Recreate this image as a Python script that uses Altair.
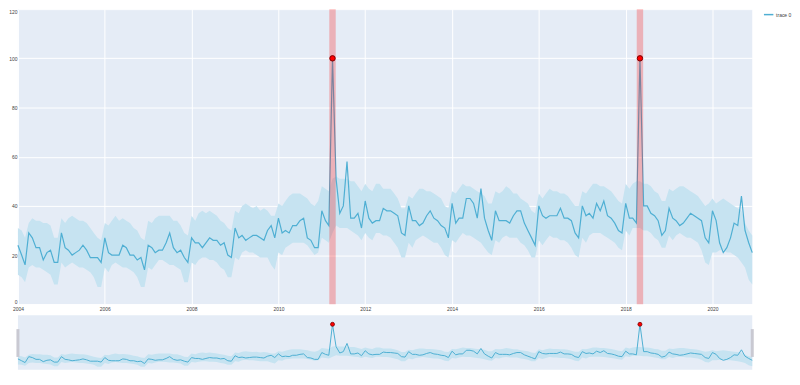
import altair as alt
import pandas as pd

# ---- data (monthly, Jan 2004 .. Dec 2020) ----
values = [
    24, 20, 16, 29, 27, 23, 23, 18, 21, 22, 17, 17,
    29, 23, 22, 20, 21, 22, 24, 22, 19, 19, 19, 17,
    27, 21, 20, 20, 20, 24, 23, 20, 20, 18, 19, 14,
    24, 23, 21, 22, 22, 25, 29, 23, 21, 22, 19, 17,
    27, 25, 25, 23, 25, 27, 26, 26, 24, 25, 20, 19,
    31, 27, 28, 26, 27, 28, 28, 27, 26, 30, 32, 27,
    35, 29, 30, 29, 32, 32, 34, 35, 27, 26, 23, 23,
    38, 34, 32, 100, 51, 37, 40, 58, 35, 35, 37, 31,
    42, 35, 33, 34, 34, 39, 38, 38, 37, 36, 29, 28,
    40, 34, 34, 32, 33, 36, 38, 35, 34, 32, 31, 27,
    41, 33, 35, 35, 43, 43, 41, 35, 47, 35, 30, 26,
    38, 34, 34, 34, 33, 36, 38, 38, 33, 30, 27, 24,
    40, 36, 35, 36, 36, 36, 39, 35, 35, 34, 29, 27,
    40, 36, 37, 35, 41, 38, 42, 36, 35, 33, 30, 29,
    41, 35, 35, 33, 100, 40, 40, 37, 36, 34, 28, 30,
    39, 35, 34, 32, 33, 35, 37, 36, 35, 34, 27, 25,
    38, 34, 25, 21, 23, 27, 33, 32, 44, 30, 25, 21,
]
upper = [
    31, 30, 27, 33, 35, 34, 34, 33, 33, 32, 27, 27,
    35, 33, 35, 36, 35, 34, 34, 33, 31, 29, 27, 26,
    33, 32, 34, 36, 34, 35, 34, 33, 31, 30, 27, 26,
    34, 33, 35, 36, 36, 36, 36, 34, 34, 32, 29, 28,
    36, 34, 37, 38, 37, 38, 37, 36, 34, 33, 31, 30,
    38, 37, 40, 41, 40, 39, 40, 38, 39, 38, 36, 36,
    41, 40, 42, 44, 45, 45, 45, 44, 43, 41, 40, 42,
    48, 47, 46, 51, 52, 51, 51, 51, 50, 50, 48, 46,
    49, 47, 46, 49, 49, 47, 47, 47, 45, 43, 39, 39,
    44, 43, 45, 47, 47, 46, 46, 45, 44, 43, 40, 39,
    46, 45, 47, 49, 48, 48, 47, 46, 45, 44, 41, 41,
    46, 45, 46, 48, 47, 45, 45, 43, 42, 41, 38, 37,
    45, 43, 45, 47, 46, 46, 45, 45, 44, 42, 40, 40,
    46, 45, 47, 49, 49, 48, 48, 47, 46, 44, 42, 41,
    49, 47, 49, 50, 50, 49, 49, 48, 46, 45, 42, 42,
    47, 46, 47, 48, 48, 47, 46, 45, 44, 42, 40, 41,
    43, 41, 42, 43, 42, 41, 40, 39, 38, 33, 30, 28,
]
lower = [
    12, 11, 9, 15, 16, 15, 15, 14, 13, 12, 8, 8,
    17, 15, 16, 17, 16, 15, 15, 14, 13, 11, 7, 7,
    15, 13, 16, 17, 16, 15, 15, 14, 13, 11, 7, 7,
    15, 14, 16, 18, 18, 17, 16, 16, 15, 14, 9, 9,
    17, 16, 18, 19, 19, 18, 18, 17, 15, 14, 11, 11,
    19, 18, 21, 22, 21, 21, 20, 19, 19, 19, 16, 14,
    21, 20, 23, 24, 25, 25, 25, 25, 24, 22, 20, 21,
    27, 26, 25, 29, 32, 31, 31, 31, 30, 29, 28, 26,
    29, 27, 26, 29, 29, 28, 28, 27, 25, 23, 19, 19,
    25, 23, 26, 27, 28, 27, 26, 25, 25, 23, 20, 19,
    26, 25, 27, 29, 28, 28, 27, 26, 25, 23, 21, 20,
    26, 25, 27, 28, 27, 27, 27, 25, 24, 22, 19, 19,
    26, 24, 26, 28, 27, 27, 26, 26, 25, 23, 20, 19,
    27, 25, 28, 29, 29, 29, 28, 27, 26, 25, 23, 22,
    30, 28, 31, 31, 31, 30, 30, 29, 27, 26, 23, 23,
    28, 26, 28, 29, 28, 27, 27, 26, 25, 22, 17, 16,
    21, 21, 22, 22, 21, 21, 20, 19, 17, 15, 10, 8,
]
anomaly_dates = ["2011-04-01", "2018-05-01"]
anomaly_values = [100, 100]
anomaly_half_width_days = 27
tick_years = [2004, 2006, 2008, 2010, 2012, 2014, 2016, 2018, 2020]
series_name = "trace 0"

dates = pd.date_range("2004-01-01", periods=len(values), freq="MS")
df = pd.DataFrame({
    "date": dates.strftime("%Y-%m-%d"),
    "value": values,
    "upper": upper,
    "lower": lower,
    "series": series_name,
})
an = pd.to_datetime(pd.Series(anomaly_dates))
adf = pd.DataFrame({
    "date": anomaly_dates,
    "value": anomaly_values,
    "start": (an - pd.Timedelta(days=anomaly_half_width_days)).dt.strftime("%Y-%m-%d"),
    "end": (an + pd.Timedelta(days=anomaly_half_width_days)).dt.strftime("%Y-%m-%d"),
})
hdf = pd.DataFrame({"date": [df["date"].iloc[0], df["date"].iloc[-1]]})

LINE = "#4FAFD3"
BAND = "#C6E3F1"
W, H, HS = 739, 297, 55

xscale = alt.Scale(domain=[df["date"].iloc[0], df["date"].iloc[-1]], nice=False)
xaxis = alt.Axis(
    values=[alt.DateTime(year=y, month=1, date=1) for y in tick_years],
    format="%Y", grid=True, gridColor="white", gridWidth=1, domain=False, ticks=False,
    labelFontSize=5, labelColor="#444", labelPadding=2, labelFlush=False, title=None,
)
yscale = alt.Scale(domain=[0, 120], nice=False)
yaxis = alt.Axis(
    values=[0, 20, 40, 60, 80, 100, 120], grid=True, gridColor="white", gridWidth=1,
    domain=False, ticks=False, labelFontSize=5, labelColor="#444", labelPadding=1,
    labelFlush=True, title=None,
)

base = alt.Chart(df).encode(x=alt.X("date:T", scale=xscale, axis=xaxis))
band = base.mark_area(color=BAND, opacity=1).encode(
    y=alt.Y("lower:Q", scale=yscale, axis=yaxis), y2="upper:Q"
)
line = base.mark_line(strokeWidth=1.2).encode(
    y=alt.Y("value:Q", scale=yscale),
    color=alt.Color(
        "series:N", scale=alt.Scale(range=[LINE]),
        legend=alt.Legend(title=None, orient="none", legendX=750, legendY=0,
                          symbolType="stroke", symbolStrokeWidth=1.5, symbolSize=90,
                          labelFontSize=5, labelColor="#444", labelOffset=2),
    ),
)
rects = alt.Chart(adf).mark_rect(color="red", opacity=0.25).encode(
    x=alt.X("start:T", scale=xscale), x2="end:T", y=alt.value(0), y2=alt.value(H)
)
pts = alt.Chart(adf).mark_point(
    filled=True, shape="circle", size=30, fill="red", stroke="#7a0000", strokeWidth=1, opacity=1
).encode(x=alt.X("date:T", scale=xscale), y=alt.Y("value:Q", scale=yscale))

main = alt.layer(band, line, rects, pts).properties(width=W, height=H)

sx = alt.X("date:T", scale=xscale, axis=None)
sy_scale = alt.Scale(domain=[0, 120], nice=False)
s_band = alt.Chart(df).mark_area(color=BAND, opacity=1).encode(
    x=sx, y=alt.Y("lower:Q", scale=sy_scale, axis=None), y2="upper:Q"
)
s_line = alt.Chart(df).mark_line(color=LINE, strokeWidth=1).encode(
    x=sx, y=alt.Y("value:Q", scale=sy_scale)
)
s_pts = alt.Chart(adf).mark_point(
    filled=True, shape="circle", size=16, fill="red", stroke="#7a0000", strokeWidth=0.8, opacity=1
).encode(x=sx, y=alt.Y("value:Q", scale=sy_scale))
s_handles = alt.Chart(hdf).mark_rule(color="#C9C9D2", strokeWidth=3).encode(
    x=sx, y=alt.value(14), y2=alt.value(42)
)
slider = alt.layer(s_band, s_line, s_pts, s_handles).properties(width=W, height=HS)

chart = alt.vconcat(main, slider, spacing=11, bounds="flush").properties(
    padding={"left": 0, "top": 0, "right": 0, "bottom": 0}, background="white"
).configure_view(fill="#E5ECF6", stroke=None).configure_axis(labelFont="Arial")

chart.save("out.html", embed_options={"renderer": "svg", "actions": False})
